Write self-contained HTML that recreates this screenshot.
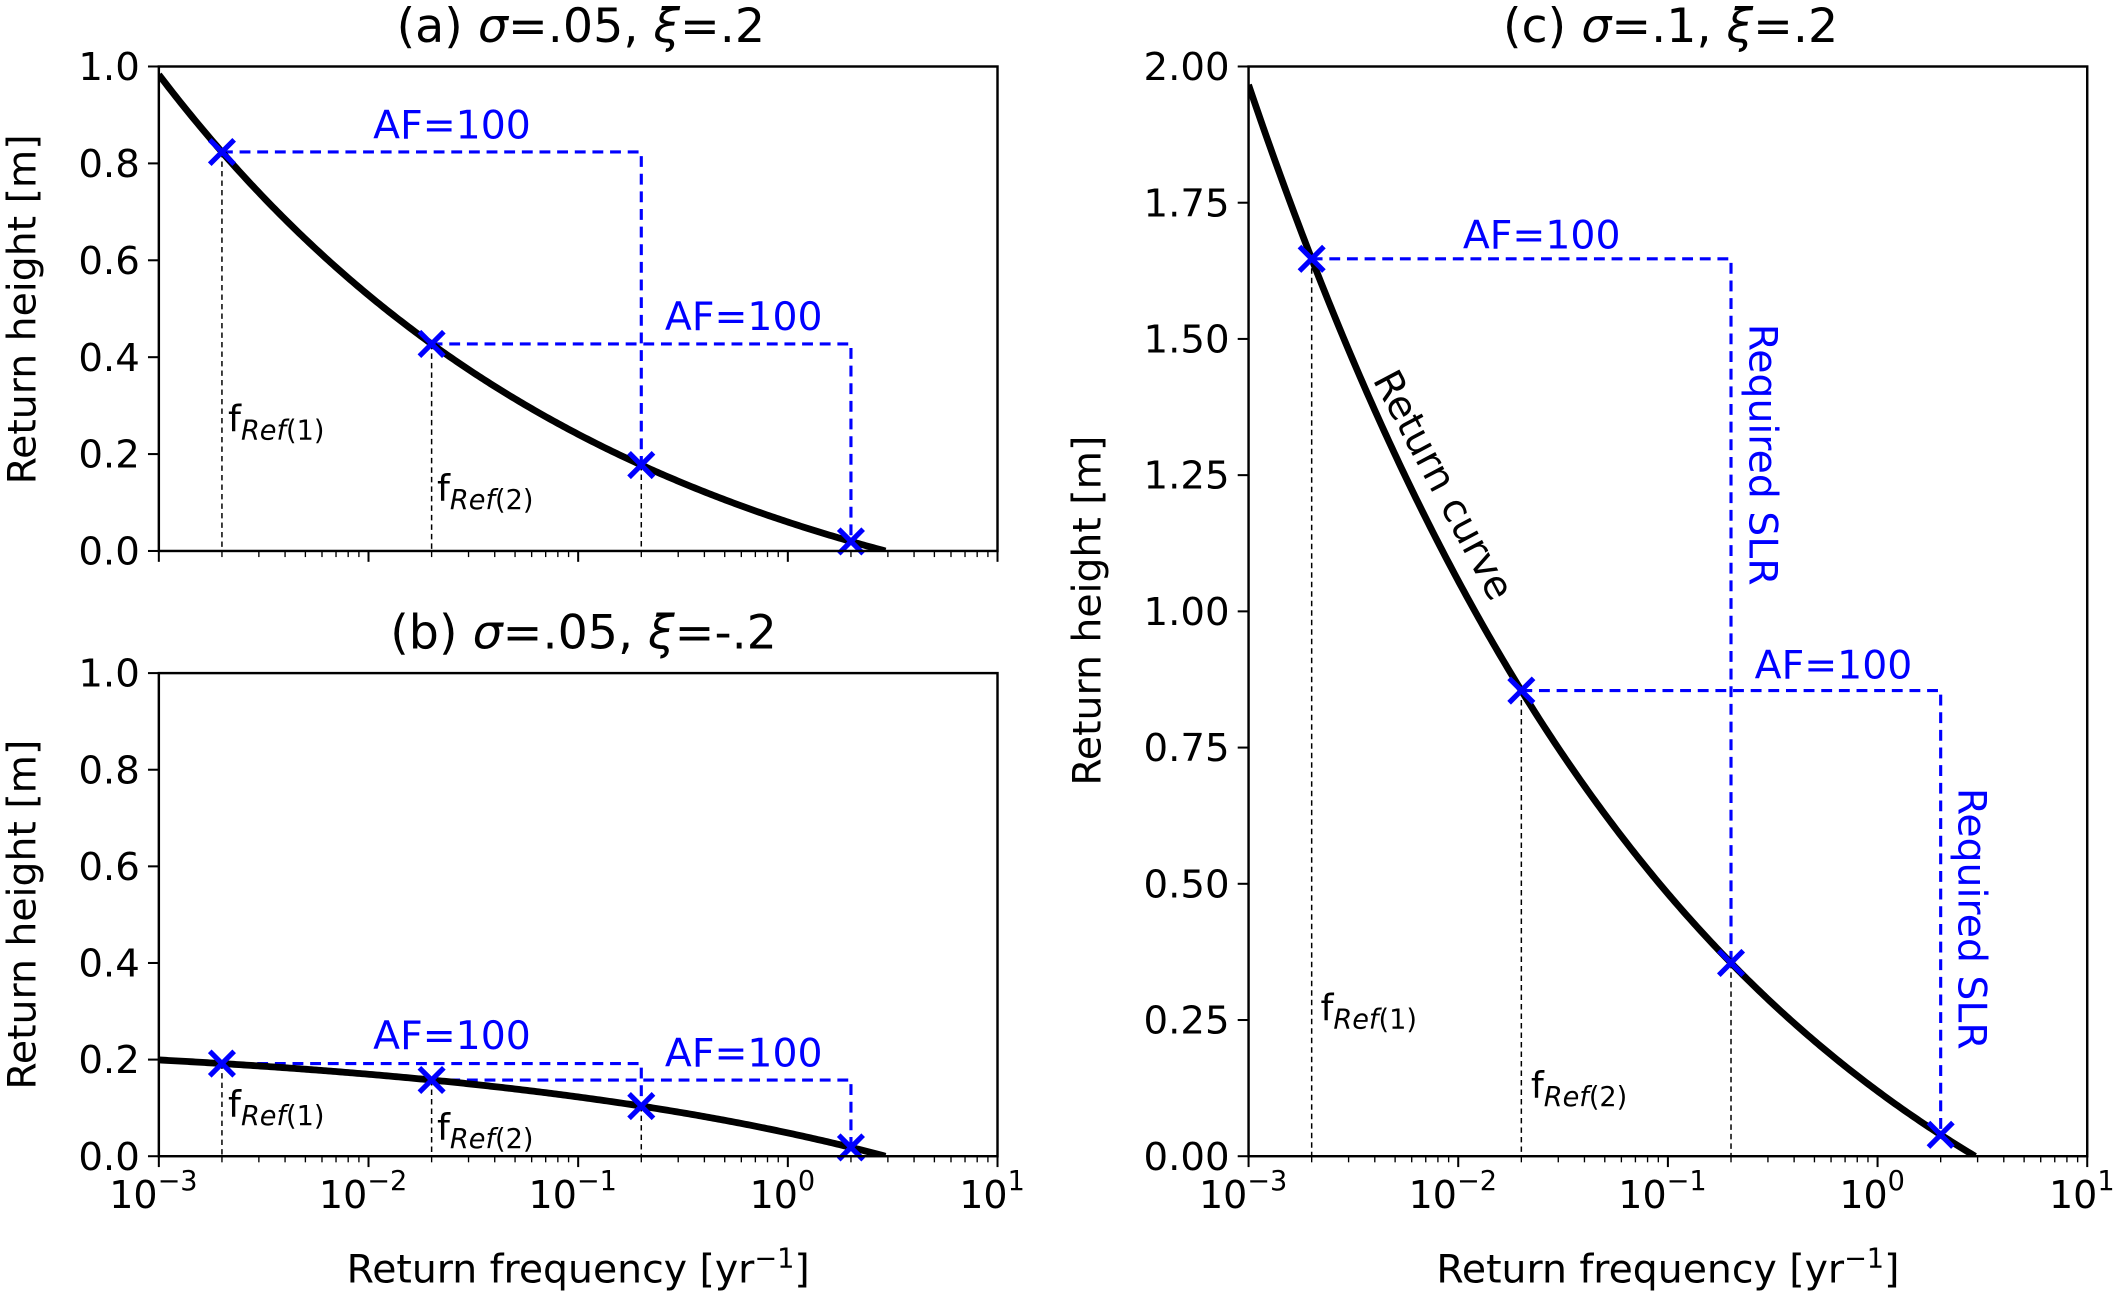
<!DOCTYPE html>
<html><head><meta charset="utf-8">
<style>
html,body{margin:0;padding:0;background:#fff;}
svg{display:block;}
text{font-family:"DejaVu Sans","Liberation Sans",sans-serif;}
.b{fill:#0000ff;}
.k{fill:#000;}
</style></head>
<body>
<svg id="s" width="2128" height="1296" viewBox="0 0 1568 955" xmlns="http://www.w3.org/2000/svg">
<g class="k">
<text x="428" y="31" font-size="35" text-anchor="middle">(a) <tspan font-style="italic">σ</tspan>=.05, <tspan font-style="italic">ξ</tspan>=.2</text>
<text x="430" y="478" font-size="35" text-anchor="middle">(b) <tspan font-style="italic">σ</tspan>=.05, <tspan font-style="italic">ξ</tspan>=-.2</text>
<text x="1231" y="31" font-size="35" text-anchor="middle">(c) <tspan font-style="italic">σ</tspan>=.1, <tspan font-style="italic">ξ</tspan>=.2</text>
<text transform="translate(26,228) rotate(-90)" font-size="29" text-anchor="middle">Return height [m]</text>
<text transform="translate(26,674) rotate(-90)" font-size="29" text-anchor="middle">Return height [m]</text>
<text transform="translate(811,450) rotate(-90)" font-size="29" text-anchor="middle">Return height [m]</text>
<text x="426" y="945" font-size="29" text-anchor="middle">Return frequency [yr<tspan dy="-11" font-size="20">−1</tspan><tspan dy="11">]</tspan></text>
<text x="1229" y="945" font-size="29" text-anchor="middle">Return frequency [yr<tspan dy="-11" font-size="20">−1</tspan><tspan dy="11">]</tspan></text>
<text transform="translate(1055,362) rotate(62)" font-size="29" text-anchor="middle">Return curve</text>
<g font-size="27">
<text x="168" y="318">f<tspan font-size="20" dy="6" font-style="italic">Ref</tspan><tspan font-size="20">(1)</tspan></text>
<text x="322" y="369">f<tspan font-size="20" dy="6" font-style="italic">Ref</tspan><tspan font-size="20">(2)</tspan></text>
<text x="168" y="823">f<tspan font-size="20" dy="6" font-style="italic">Ref</tspan><tspan font-size="20">(1)</tspan></text>
<text x="322" y="840">f<tspan font-size="20" dy="6" font-style="italic">Ref</tspan><tspan font-size="20">(2)</tspan></text>
<text x="973" y="752">f<tspan font-size="20" dy="6" font-style="italic">Ref</tspan><tspan font-size="20">(1)</tspan></text>
<text x="1128" y="809">f<tspan font-size="20" dy="6" font-style="italic">Ref</tspan><tspan font-size="20">(2)</tspan></text>
</g>
</g>
<g class="b" font-size="29" text-anchor="middle">
<text x="333" y="102">AF=100</text>
<text x="548" y="243">AF=100</text>
<text x="333" y="773">AF=100</text>
<text x="548" y="786">AF=100</text>
<text x="1136" y="183">AF=100</text>
<text x="1351" y="500">AF=100</text>
<text transform="translate(1289,335) rotate(90)">Required SLR</text>
<text transform="translate(1443,677) rotate(90)">Required SLR</text>
</g>
<g id="dyn" class="k"></g>
</svg>
<script>
var NS="http://www.w3.org/2000/svg",g=document.getElementById("dyn");
function el(t,a,txt){var e=document.createElementNS(NS,t);for(var k in a)e.setAttribute(k,a[k]);if(txt!==undefined)e.textContent=txt;g.appendChild(e);return e;}
function panel(L,T,R,B,ymax,yt,dec,sig,xi,xlab,id,vlines){
 var LAM=2.92;
 var X=function(f){return L+(Math.log10(f)+3)*(R-L)/4},Y=function(z){return B-z/ymax*(B-T)};
 var Z=function(f){return sig/xi*(Math.pow(f/LAM,-xi)-1)};
 for(var d=-3;d<=1;d++){var x=X(Math.pow(10,d));el("line",{x1:x,x2:x,y1:B,y2:B+8,stroke:"#000","stroke-width":1.5});
  if(xlab){var t=el("text",{x:x-4,y:B+38,"font-size":28,"text-anchor":"middle"},"10");var s=document.createElementNS(NS,"tspan");s.setAttribute("dy","-13");s.setAttribute("font-size","20");s.textContent=(d<0?"−":"")+Math.abs(d);t.appendChild(s);}
  if(d<1)for(var m=2;m<10;m++){var xm=X(m*Math.pow(10,d));el("line",{x1:xm,x2:xm,y1:B,y2:B+4.5,stroke:"#000","stroke-width":1});}}
 for(var i=0;i<yt.length;i++){var y=Y(yt[i]);el("line",{x1:L-8,x2:L,y1:y,y2:y,stroke:"#000","stroke-width":1.5});
  el("text",{x:L-14,y:y+10,"font-size":28.5,"text-anchor":"end"},yt[i].toFixed(dec));}
 var cp=el("clipPath",{id:id});var r=document.createElementNS(NS,"rect");r.setAttribute("x",L);r.setAttribute("y",T);r.setAttribute("width",R-L);r.setAttribute("height",B-T);cp.appendChild(r);
 var fs=[0.002,0.02,0.2,2],zs=fs.map(Z);
 vlines.forEach(function(i){el("line",{x1:X(fs[i]),x2:X(fs[i]),y1:Y(zs[i]),y2:B,stroke:"#000","stroke-width":1.1,"stroke-dasharray":"4,3"});});
 for(var j=0;j<2;j++){el("polyline",{points:X(fs[j])+","+Y(zs[j])+" "+X(fs[j+2])+","+Y(zs[j])+" "+X(fs[j+2])+","+Y(zs[j+2]),fill:"none",stroke:"#0000ff","stroke-width":2.3,"stroke-dasharray":"8,5"});}
 var p="";for(var k=0;k<=300;k++){var lf=-3+k*(Math.log10(LAM)+3)/300,f=Math.pow(10,lf);p+=(k?"L":"M")+X(f).toFixed(2)+","+Y(Z(f)).toFixed(2);}
 el("path",{d:p,fill:"none",stroke:"#000","stroke-width":5,"clip-path":"url(#"+id+")"});
 for(var q=0;q<4;q++){var cx=X(fs[q]),cy=Y(zs[q]),h=9;el("path",{d:"M"+(cx-h)+","+(cy-h)+"L"+(cx+h)+","+(cy+h)+"M"+(cx-h)+","+(cy+h)+"L"+(cx+h)+","+(cy-h),stroke:"#0000ff","stroke-width":3.8,fill:"none"});}
 el("rect",{x:L,y:T,width:R-L,height:B-T,fill:"none",stroke:"#000","stroke-width":1.8});
}
panel(117,49,735,406,1,[0,0.2,0.4,0.6,0.8,1.0],1,0.05,0.2,false,"ca",[0,1,2]);
panel(117,496,735,852,1,[0,0.2,0.4,0.6,0.8,1.0],1,0.05,-0.2,true,"cb",[0,1,2]);
panel(920,49,1538,852,2,[0,0.25,0.5,0.75,1,1.25,1.5,1.75,2],2,0.1,0.2,true,"cc",[0,1,2]);
</script>
</body></html>
